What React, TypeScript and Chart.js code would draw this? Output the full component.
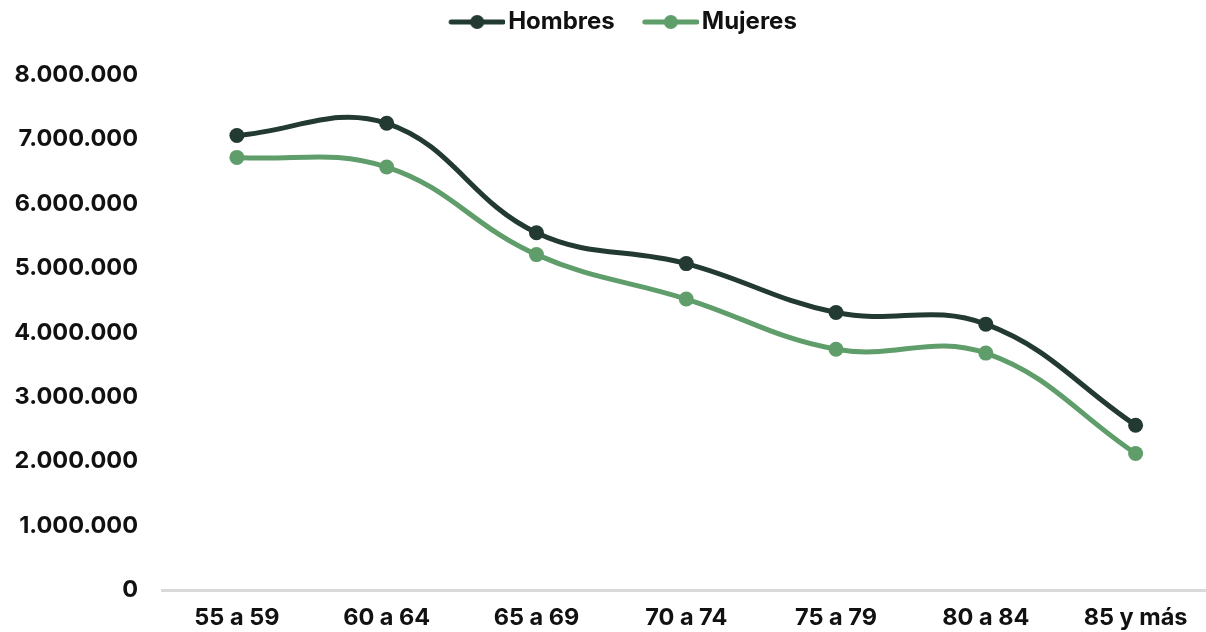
import React, { useEffect, useRef } from "react";
import { Chart, registerables } from "chart.js";

Chart.register(...registerables);

const categories = ["55 a 59", "60 a 64", "65 a 69", "70 a 74", "75 a 79", "80 a 84", "85 y más"];
const hombres = [7060000, 7250000, 5550000, 5070000, 4310000, 4130000, 2560000];
const mujeres = [6720000, 6570000, 5210000, 4520000, 3740000, 3680000, 2120000];
const yTicks = [0, 1000000, 2000000, 3000000, 4000000, 5000000, 6000000, 7000000, 8000000];

const DARK = "#233a33";
const GREEN = "#5f9e6a";
const FONT = "Inter, 'Noto Sans', sans-serif";

// legend icon: transparent left part, then line with circle on the right
function legendIcon(color: string): HTMLCanvasElement {
  const c = document.createElement("canvas");
  c.width = 83;
  c.height = 16;
  const ctx = c.getContext("2d")!;
  ctx.strokeStyle = color;
  ctx.lineWidth = 5;
  ctx.lineCap = "round";
  ctx.beginPath();
  ctx.moveTo(29, 8);
  ctx.lineTo(81, 8);
  ctx.stroke();
  ctx.fillStyle = color;
  ctx.beginPath();
  ctx.arc(55, 8, 7, 0, Math.PI * 2);
  ctx.fill();
  return c;
}

function fmt(v: number): string {
  return String(Math.round(v)).replace(/\B(?=(\d{3})+(?!\d))/g, ".");
}

const legendShift = {
  id: "legendShift",
  afterLayout(chart: any) {
    const lg = chart.legend;
    if (!lg) return;
    const h = lg.height;
    lg.top = 0;
    lg.bottom = h;
    lg.left = 10;
  },
};

export default function App() {
  const ref = useRef<HTMLCanvasElement | null>(null);
  useEffect(() => {
    if (!ref.current) return;
    const mk = (label: string, data: number[], color: string) => ({
      label,
      data,
      borderColor: color,
      backgroundColor: color,
      borderWidth: 5,
      pointRadius: 7.5,
      pointHoverRadius: 7.5,
      pointBackgroundColor: color,
      pointBorderWidth: 0,
      tension: 0.4,
      pointStyle: "circle",
    });
    const chart = new Chart(ref.current, {
      type: "line",
      data: {
        labels: categories,
        datasets: [mk("Hombres", hombres, DARK), mk("Mujeres", mujeres, GREEN)],
      },
      plugins: [legendShift],
      options: {
        animation: false,
        responsive: false,
        maintainAspectRatio: false,
        layout: { padding: { left: 0, top: 0, right: 0, bottom: 0 } },
        plugins: {
          tooltip: { enabled: false },
          legend: {
            position: "top",
            labels: {
              usePointStyle: true,
              pointStyleWidth: 65,
              boxHeight: 16,
              padding: 10,
              color: "#111",
              font: { family: FONT, size: 24, weight: "bold" },
              generateLabels: (ch: any) =>
                ch.data.datasets.map((ds: any, i: number) => ({
                  text: ds.label,
                  datasetIndex: i,
                  pointStyle: legendIcon(ds.borderColor),
                  fillStyle: ds.borderColor,
                  strokeStyle: ds.borderColor,
                  lineWidth: 0,
                  fontColor: "#111",
                  hidden: false,
                })),
            },
          },
        },
        scales: {
          x: {
            offset: true,
            grid: { display: false, drawTicks: false, offset: true },
            border: { display: true, color: "#d9d9d9", width: 3 },
            afterFit: (s: any) => {
              s.height = 42;
            },
            ticks: {
              color: "#111",
              padding: 14,
              font: { family: FONT, size: 23.5, weight: "bold" },
              maxRotation: 0,
            },
          },
          y: {
            min: 0,
            max: 8000000,
            afterBuildTicks: (s: any) => {
              s.ticks = yTicks.map((v) => ({ value: v }));
            },
            afterFit: (s: any) => {
              s.width = 162;
              s.paddingTop = 75;
            },
            grid: { display: false, drawTicks: false },
            border: { display: false },
            ticks: {
              color: "#111",
              padding: 24,
              font: { family: FONT, size: 23.5, weight: "bold" },
              callback: (v: any) => fmt(Number(v)),
            },
          },
        },
      },
    });
    return () => chart.destroy();
  }, []);
  return (
    <div style={{ position: "absolute", left: 0, top: 0, width: 1206, height: 632, overflow: "hidden", background: "#fff" }}>
      <canvas ref={ref} width={1218} height={632} style={{ display: "block", width: 1218, height: 632 }} />
    </div>
  );
}
